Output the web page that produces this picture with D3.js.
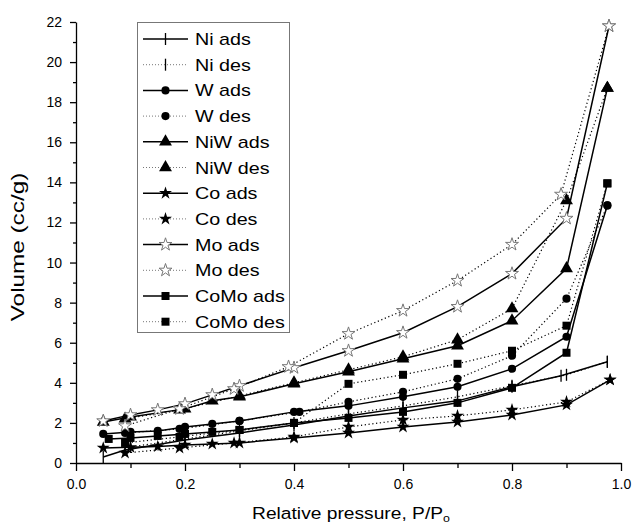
<!DOCTYPE html>
<html>
<head>
<meta charset="utf-8">
<script src="https://cdn.jsdelivr.net/npm/d3@7/dist/d3.min.js"></script>
<style>
  html, body { margin: 0; padding: 0; background: #fff; }
  svg { display: block; }
  text { font-family: "Liberation Sans", Arial, sans-serif; fill: #000; }
</style>
</head>
<body>
<svg id="chart" width="634" height="524"></svg>
<script>
// Nitrogen isotherms: relative pressure (P/Po) and adsorbed volume (cc/g)
const niAdsP = [0.05, 0.09, 0.2, 0.3, 0.4, 0.5, 0.6, 0.7, 0.8, 0.89, 0.975];
const niAdsV = [0.3, 0.65, 1.15, 1.5, 1.9, 2.35, 2.75, 3.1, 3.8, 4.35, 5.05];
const niDesP = [0.975, 0.9, 0.8, 0.7, 0.6, 0.5, 0.4, 0.3, 0.2, 0.1];
const niDesV = [5.05, 4.4, 3.85, 3.3, 2.85, 2.45, 2.0, 1.6, 1.2, 0.8];

const wAdsP = [0.05, 0.1, 0.15, 0.2, 0.25, 0.3, 0.4, 0.5, 0.6, 0.7, 0.8, 0.9, 0.975];
const wAdsV = [1.45, 1.55, 1.6, 1.8, 1.95, 2.1, 2.55, 2.85, 3.3, 3.8, 4.7, 6.3, 12.85];
const wDesP = [0.975, 0.9, 0.8, 0.7, 0.6, 0.5, 0.41, 0.3, 0.19, 0.09];
const wDesV = [12.85, 8.2, 5.35, 4.2, 3.55, 3.05, 2.55, 2.1, 1.7, 1.5];

const niwAdsP = [0.05, 0.1, 0.2, 0.25, 0.3, 0.4, 0.5, 0.6, 0.7, 0.8, 0.9, 0.975];
const niwAdsV = [2.05, 2.3, 2.7, 3.1, 3.3, 3.95, 4.55, 5.2, 5.85, 7.1, 9.7, 18.7];
const niwDesP = [0.975, 0.9, 0.8, 0.7, 0.6, 0.5, 0.4, 0.3, 0.19, 0.09];
const niwDesV = [18.7, 13.1, 7.7, 6.15, 5.3, 4.65, 4.0, 3.35, 2.65, 2.2];

const coAdsP = [0.05, 0.1, 0.15, 0.2, 0.25, 0.3, 0.4, 0.5, 0.6, 0.7, 0.8, 0.9, 0.98];
const coAdsV = [0.75, 0.78, 0.82, 0.9, 0.95, 1.0, 1.25, 1.5, 1.8, 2.05, 2.4, 2.9, 4.15];
const coDesP = [0.98, 0.9, 0.8, 0.7, 0.6, 0.5, 0.4, 0.29, 0.19, 0.09];
const coDesV = [4.15, 3.05, 2.65, 2.35, 2.15, 1.8, 1.3, 1.0, 0.75, 0.5];

const moAdsP = [0.05, 0.1, 0.15, 0.2, 0.25, 0.3, 0.4, 0.5, 0.6, 0.7, 0.8, 0.9, 0.978];
const moAdsV = [2.1, 2.4, 2.65, 2.95, 3.4, 3.85, 4.75, 5.6, 6.5, 7.8, 9.45, 12.2, 21.8];
const moDesP = [0.978, 0.89, 0.8, 0.7, 0.6, 0.5, 0.39, 0.29, 0.19, 0.09];
const moDesV = [21.8, 13.4, 10.9, 9.1, 7.6, 6.45, 4.8, 3.7, 2.7, 1.85];

const comoAdsP = [0.06, 0.1, 0.15, 0.2, 0.25, 0.3, 0.4, 0.5, 0.6, 0.7, 0.8, 0.9, 0.975];
const comoAdsV = [1.2, 1.25, 1.35, 1.45, 1.55, 1.65, 2.0, 2.25, 2.55, 3.0, 3.75, 5.5, 13.95];
const comoDesP = [0.975, 0.9, 0.8, 0.7, 0.6, 0.5, 0.4, 0.3, 0.19, 0.09];
const comoDesV = [13.95, 6.85, 5.6, 4.95, 4.4, 3.95, 2.0, 1.65, 1.3, 1.0];

const seriesNames = ["Ni ads", "Ni des", "W ads", "W des", "NiW ads", "NiW des",
                     "Co ads", "Co des", "Mo ads", "Mo des", "CoMo ads", "CoMo des"];
const xTickValues = [0, 0.2, 0.4, 0.6, 0.8, 1.0];
const yTickValues = [0, 2, 4, 6, 8, 10, 12, 14, 16, 18, 20, 22];

const xTitle = "Relative pressure, P/P";
const xTitleSub = "o";
const yTitle = "Volume (cc/g)";

// Series table: point arrays plus marker kind and line style
const zip = (p, v) => p.map((x, i) => ({ x, y: v[i] }));
const series = [
  { name: seriesNames[0],  pts: zip(niAdsP, niAdsV),     mark: "bar",      dotted: false },
  { name: seriesNames[1],  pts: zip(niDesP, niDesV),     mark: "bar",      dotted: true },
  { name: seriesNames[2],  pts: zip(wAdsP, wAdsV),       mark: "circle",   dotted: false },
  { name: seriesNames[3],  pts: zip(wDesP, wDesV),       mark: "circle",   dotted: true },
  { name: seriesNames[4],  pts: zip(niwAdsP, niwAdsV),   mark: "triangle", dotted: false },
  { name: seriesNames[5],  pts: zip(niwDesP, niwDesV),   mark: "triangle", dotted: true },
  { name: seriesNames[6],  pts: zip(coAdsP, coAdsV),     mark: "star",     dotted: false },
  { name: seriesNames[7],  pts: zip(coDesP, coDesV),     mark: "star",     dotted: true },
  { name: seriesNames[8],  pts: zip(moAdsP, moAdsV),     mark: "openstar", dotted: false },
  { name: seriesNames[9],  pts: zip(moDesP, moDesV),     mark: "openstar", dotted: true },
  { name: seriesNames[10], pts: zip(comoAdsP, comoAdsV), mark: "square",   dotted: false },
  { name: seriesNames[11], pts: zip(comoDesP, comoDesV), mark: "square",   dotted: true }
];

const svg = d3.select("#chart");
const x = d3.scaleLinear().domain([0, 1]).range([76, 621]);
const y = d3.scaleLinear().domain([0, 22]).range([463, 22]);

const symbolFor = {
  circle:   d3.symbol().type(d3.symbolCircle).size(52),
  triangle: d3.symbol().type(d3.symbolTriangle).size(72),
  square:   d3.symbol().type(d3.symbolSquare).size(64),
  star:     d3.symbol().type(d3.symbolStar).size(52),
  openstar: d3.symbol().type(d3.symbolStar).size(52)
};

function drawMarker(g, kind, cx, cy) {
  if (kind === "bar") {
    g.append("line").attr("x1", cx).attr("x2", cx).attr("y1", cy - 6).attr("y2", cy + 6)
      .attr("stroke", "#000").attr("stroke-width", 1.3);
    return;
  }
  const p = g.append("path").attr("d", symbolFor[kind]())
    .attr("transform", `translate(${cx},${cy})`);
  if (kind === "openstar") {
    p.attr("fill", "#fff").attr("stroke", "#777").attr("stroke-width", 1);
  } else {
    p.attr("fill", "#000");
  }
}

// Axes
const xAxis = d3.axisBottom(x).tickValues(xTickValues).tickFormat(d3.format(".1f"))
  .tickSize(8).tickSizeOuter(0).tickPadding(8);
const gx = svg.append("g").attr("transform", `translate(0,${y(0)})`).call(xAxis);
gx.selectAll("text").attr("font-size", 14);
gx.select(".domain").attr("stroke-width", 1.3);
gx.selectAll(".tick line").attr("stroke-width", 1.3);
svg.append("g").attr("transform", `translate(0,${y(0)})`)
  .call(d3.axisBottom(x).tickValues(d3.range(0.1, 1, 0.2)).tickSize(5).tickFormat(""))
  .call(g => g.select(".domain").remove())
  .selectAll(".tick line").attr("stroke-width", 1.3);

const yAxis = d3.axisLeft(y).tickValues(yTickValues).tickFormat(d3.format("d"))
  .tickSize(6).tickSizeOuter(0).tickPadding(8);
const gy = svg.append("g").attr("transform", `translate(${x(0)},0)`).call(yAxis);
gy.selectAll("text").attr("font-size", 14);
gy.select(".domain").attr("stroke-width", 1.3);
gy.selectAll(".tick line").attr("stroke-width", 1.3);
svg.append("g").attr("transform", `translate(${x(0)},0)`)
  .call(d3.axisLeft(y).tickValues(d3.range(1, 22, 2)).tickSize(3).tickFormat(""))
  .call(g => g.select(".domain").remove())
  .selectAll(".tick line").attr("stroke-width", 1.3);

// Axis titles (the typeface is set a little wide)
const xt = svg.append("text").attr("transform", "translate(351,519) scale(1.13,1)")
  .attr("text-anchor", "middle").attr("font-size", 17).text(xTitle);
xt.append("tspan").attr("font-size", 11).attr("dy", 3).text(xTitleSub);

svg.append("text").attr("transform", "translate(24,247) rotate(-90) scale(1.35,1)")
  .attr("text-anchor", "middle").attr("font-size", 18).text(yTitle);

// Lines then markers
const line = d3.line().x(d => x(d.x)).y(d => y(d.y));
const plot = svg.append("g");
series.forEach(s => {
  plot.append("path").datum(s.pts).attr("d", line)
    .attr("fill", "none").attr("stroke", "#000")
    .attr("stroke-width", s.dotted ? 1.2 : 1.5)
    .attr("stroke-dasharray", s.dotted ? "1.2,2.6" : null);
});
series.forEach(s => {
  const g = plot.append("g");
  s.pts.forEach(d => drawMarker(g, s.mark, x(d.x), y(d.y)));
});

// Legend
const lg = svg.append("g");
lg.append("rect").attr("x", 137.5).attr("y", 22.5).attr("width", 152).attr("height", 310)
  .attr("fill", "#fff").attr("stroke", "#777").attr("stroke-width", 1);
series.forEach((s, i) => {
  const cy = 39 + i * 25.7;
  lg.append("line").attr("x1", 143).attr("x2", 188).attr("y1", cy).attr("y2", cy)
    .attr("stroke", s.dotted ? "#777" : "#000")
    .attr("stroke-width", s.dotted ? 1 : 1.5)
    .attr("stroke-dasharray", s.dotted ? "1,2" : null);
  drawMarker(lg, s.mark, 165.5, cy);
  lg.append("text").attr("transform", `translate(195,${cy + 6}) scale(1.16,1)`)
    .attr("font-size", 17).text(s.name);
});
</script>
</body>
</html>
